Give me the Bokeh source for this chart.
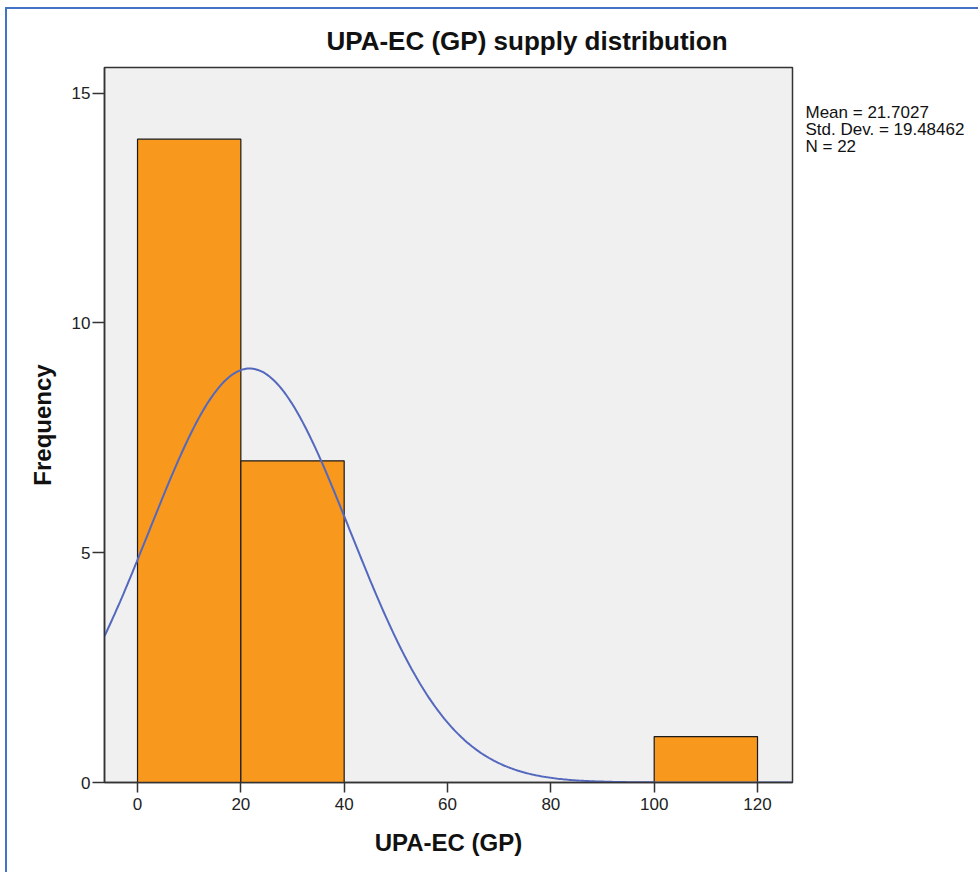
import numpy as np
from bokeh.plotting import figure
from bokeh.models import Label, FixedTicker, ColumnDataSource, Title
from bokeh.embed import file_html
from bokeh.resources import INLINE

# Histogram bins (UPA-EC (GP)) and their frequencies
bin_left = [0, 20, 40, 60, 80, 100]
bin_right = [20, 40, 60, 80, 100, 120]
frequency = [14, 7, 0, 0, 0, 1]

# Descriptive statistics shown beside the chart
mean_val = 21.7027
std_dev = 19.48462
n_obs = 22
bin_width = 20

x_ticks = [0, 20, 40, 60, 80, 100, 120]
y_ticks = [0, 5, 10, 15]

FONT = "Liberation Sans"
OX, OY = 7, 9                 # canvas offset inside the blue page frame
FL, FR, FT, FB = 104, 792, 67, 782  # plot-frame edges in page pixels
W, H = 980 - OX, 874 - OY

p = figure(width=W, height=H, output_backend="svg", toolbar_location=None,
           x_range=(-6.39, 126.77), y_range=(0, 15.56),
           min_border_left=FL - OX, min_border_right=980 - FR,
           min_border_top=FT - OY, min_border_bottom=874 - FB)

# Blue page frame on the top and left edges
p.styles = {"margin-left": "5px", "margin-top": "7px",
            "border-left": "2px solid #4472C4", "border-top": "2px solid #4472C4"}

p.background_fill_color = "#F0F0F0"
p.border_fill_color = "white"
p.outline_line_color = "#333333"
p.outline_line_width = 1.5
p.xgrid.visible = False
p.ygrid.visible = False

# Chart title
p.add_layout(Title(text="UPA-EC (GP) supply distribution", align="left", offset=222,
                   standoff=24, text_font=FONT, text_font_style="bold",
                   text_font_size="26px", text_color="#111111"), "above")

# Bars (only bins with observations)
bars = ColumnDataSource(dict(
    left=[l for l, f in zip(bin_left, frequency) if f > 0],
    right=[r for r, f in zip(bin_right, frequency) if f > 0],
    top=[f for f in frequency if f > 0],
))
p.quad(left="left", right="right", bottom=0, top="top", source=bars,
       fill_color="#F8991D", line_color="#1a1a1a", line_width=1.2)

# Fitted normal curve scaled to counts
xs = np.linspace(-6.39, 126.77, 400)
ys = n_obs * bin_width * np.exp(-0.5 * ((xs - mean_val) / std_dev) ** 2) / (std_dev * np.sqrt(2 * np.pi))
p.line(xs, ys, line_color="#5468BE", line_width=2)

# Axes
for ax in (p.xaxis, p.yaxis):
    ax.axis_line_color = "#333333"
    ax.axis_line_width = 1.5
    ax.major_tick_line_color = "#333333"
    ax.major_tick_line_width = 1.5
    ax.major_tick_in = 0
    ax.minor_tick_line_color = None
    ax.major_label_text_font = FONT
    ax.major_label_text_font_size = "17px"
    ax.major_label_text_color = "#222222"
    ax.axis_label_text_font = FONT
    ax.axis_label_text_font_style = "bold"
    ax.axis_label_text_font_size = "24px"
    ax.axis_label_text_color = "#111111"

p.xaxis.ticker = FixedTicker(ticks=x_ticks)
p.yaxis.ticker = FixedTicker(ticks=y_ticks)
p.xaxis.major_tick_out = 10
p.yaxis.major_tick_out = 12
p.xaxis.major_label_standoff = 5
p.yaxis.major_label_standoff = 2
p.xaxis.axis_label = "UPA-EC (GP)"
p.yaxis.axis_label = "Frequency"
p.xaxis.axis_label_standoff = 16
p.yaxis.axis_label_standoff = 13

# Statistics block, placed in the right-hand margin
stats = "\n".join([f"Mean = {mean_val}", f"Std. Dev. = {std_dev}", f"N = {n_obs}"])
p.add_layout(Label(x=13, y=FB - 102, x_units="screen", y_units="screen",
                   text=stats, text_align="left", text_baseline="top",
                   text_line_height=0.9,
                   text_font=FONT, text_font_size="17px", text_color="#111111"), "right")

open("out.html", "w").write(file_html(p, INLINE))
